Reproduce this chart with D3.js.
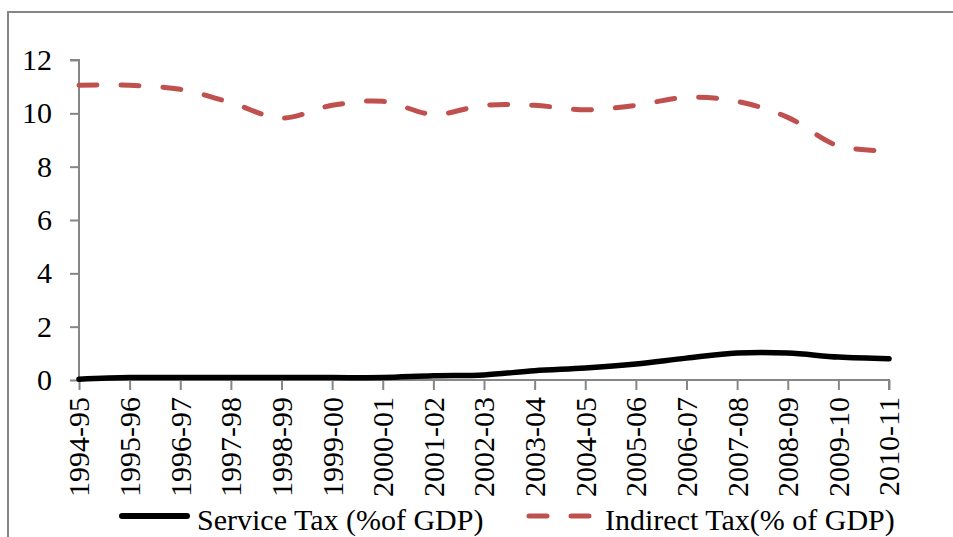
<!DOCTYPE html>
<html>
<head>
<meta charset="utf-8">
<script src="https://cdn.jsdelivr.net/npm/d3@7"></script>
<style>
  body { margin: 0; background: #fff; }
  svg { display: block; }
  svg text { font-family: "Liberation Serif", "Times New Roman", "DejaVu Serif", serif; font-size: 30px; fill: #000; }
</style>
</head>
<body>
<svg id="chart" width="953" height="537"></svg>
<script>
const years = ['1994-95', '1995-96', '1996-97', '1997-98', '1998-99', '1999-00', '2000-01',
  '2001-02', '2002-03', '2003-04', '2004-05', '2005-06', '2006-07', '2007-08', '2008-09',
  '2009-10', '2010-11'];
const serviceTax = [0.03, 0.09, 0.09, 0.09, 0.09, 0.09, 0.09, 0.16, 0.19, 0.35, 0.45, 0.6,
  0.82, 1.01, 1.01, 0.86, 0.8];
const indirectTax = [11.05, 11.05, 10.9, 10.4, 9.82, 10.3, 10.45, 9.96, 10.3, 10.3, 10.13,
  10.3, 10.6, 10.45, 9.85, 8.78, 8.6];
const yTicks = [0, 2, 4, 6, 8, 10, 12];
const seriesNames = ['Service Tax (%of GDP)', 'Indirect Tax(% of GDP)'];

const svg = d3.select('#chart'),
  axisColor = '#868686',
  red = '#C0504D';

// outer chart frame (clipped by the picture on right and bottom)
svg.append('rect')
  .attr('x', 8).attr('y', 12)
  .attr('width', 1000).attr('height', 1000)
  .attr('fill', 'none')
  .attr('stroke', axisColor)
  .attr('stroke-width', 2);

const x = d3.scalePoint().domain(years).range([79, 889]),
  y = d3.scaleLinear().domain([0, 12]).range([380, 60]);

// y axis
const yAxis = svg.append('g')
  .attr('transform', 'translate(79,0)')
  .call(d3.axisLeft(y).tickValues(yTicks).tickSize(9).tickPadding(18).tickFormat(d3.format('d')))
  .attr('font-family', null).attr('font-size', null);
yAxis.select('.domain').attr('stroke', axisColor).attr('stroke-width', 2)
  .attr('d', `M-9,${y(12)}H0V${y(0)}`);
yAxis.selectAll('.tick line').attr('stroke', axisColor).attr('stroke-width', 2);
yAxis.selectAll('.tick text').attr('fill', null);

// x axis
const xAxis = svg.append('g')
  .attr('transform', `translate(0,${y(0)})`)
  .call(d3.axisBottom(x).tickSize(10).tickPadding(0))
  .attr('font-family', null).attr('font-size', null);
xAxis.select('.domain').attr('stroke', axisColor).attr('stroke-width', 2)
  .attr('d', `M${x(years[0])},0H${x(years[years.length - 1])}V10`);
xAxis.selectAll('.tick line').attr('stroke', axisColor).attr('stroke-width', 2);
xAxis.selectAll('.tick text')
  .attr('fill', null)
  .attr('transform', 'rotate(-90)')
  .attr('text-anchor', 'end')
  .attr('x', -17)
  .attr('y', 0)
  .attr('dy', '0.33em');

const line = vals => d3.line()
  .x((d, i) => x(years[i]))
  .y(d => y(d))
  .curve(d3.curveCatmullRom.alpha(0.5))(vals);

svg.append('path')
  .attr('d', line(indirectTax))
  .attr('fill', 'none')
  .attr('stroke', red)
  .attr('stroke-width', 5)
  .attr('stroke-linecap', 'round')
  .attr('stroke-dasharray', '18,24');

svg.append('path')
  .attr('d', line(serviceTax))
  .attr('fill', 'none')
  .attr('stroke', '#000')
  .attr('stroke-width', 5.5)
  .attr('stroke-linecap', 'round');

// legend
const legend = svg.append('g');
legend.append('line')
  .attr('x1', 122).attr('x2', 187).attr('y1', 516).attr('y2', 516)
  .attr('stroke', '#000').attr('stroke-width', 6).attr('stroke-linecap', 'round');
legend.append('text')
  .attr('x', 197).attr('y', 530)
  .text(seriesNames[0]);
legend.append('line')
  .attr('x1', 529).attr('x2', 591).attr('y1', 516).attr('y2', 516)
  .attr('stroke', red).attr('stroke-width', 5)
  .attr('stroke-linecap', 'round').attr('stroke-dasharray', '18,24');
legend.append('text')
  .attr('x', 605).attr('y', 530)
  .text(seriesNames[1]);
</script>
</body>
</html>
